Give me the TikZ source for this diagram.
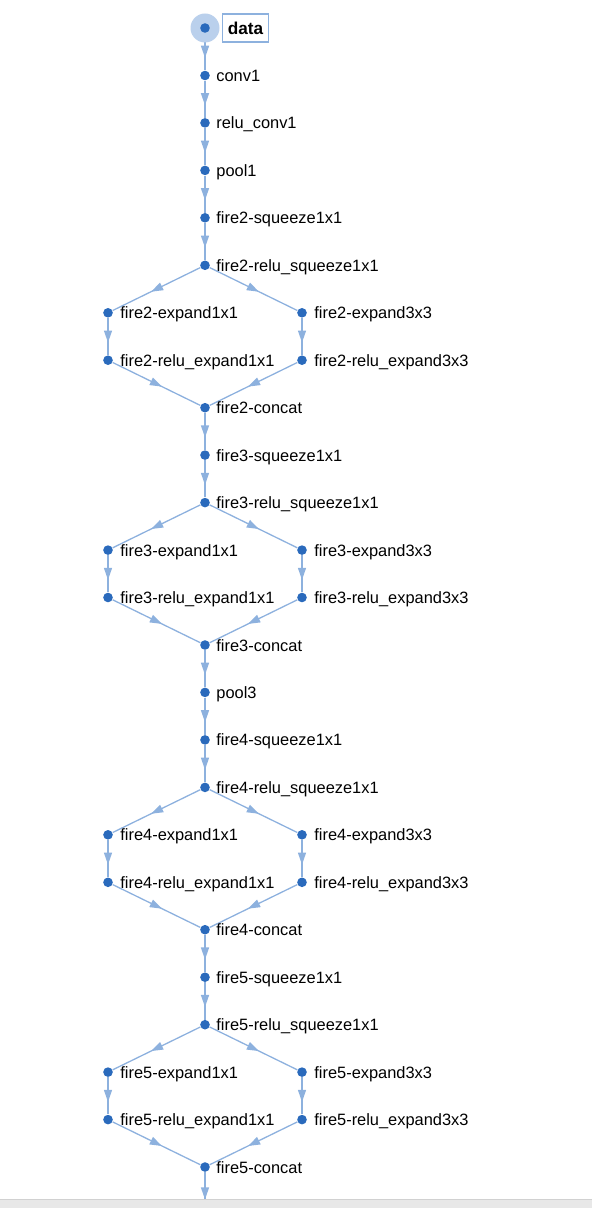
\documentclass[tikz,border=0pt]{standalone}
\usepackage{fontspec}
\setmainfont{Liberation Sans}
\usetikzlibrary{arrows.meta,decorations.markings,backgrounds}

\definecolor{dotblue}{RGB}{42,106,188}
\definecolor{edgeblue}{RGB}{141,177,222}
\definecolor{haloblue}{RGB}{186,208,236}
\definecolor{bargray}{RGB}{232,232,232}

\tikzset{
  layer/.style={circle,fill=dotblue,inner sep=0pt,minimum size=4.8pt},
  lbl/.style={anchor=base west,inner sep=0pt,font=\fontsize{8.2}{10}\selectfont},
  flow/.style={draw=edgeblue,line width=0.65pt,
    postaction={decorate,decoration={markings,
      mark=at position 0.5 with {\fill[edgeblue] (3pt,0) -- (-3pt,2.1pt) -- (-3pt,-2.1pt) -- cycle;}}}}
}

\begin{document}
\begin{tikzpicture}[x=0.5pt,y=-0.5pt]
\useasboundingbox (0,0) rectangle (592,1208);

% input
\node[circle,fill=haloblue,minimum size=14.5pt,inner sep=0pt] (data-halo) at (205,28) {};
\node[layer] (data) at (205,28) {};
\node[draw=edgeblue,line width=0.6pt,inner sep=0pt,minimum width=23pt,minimum height=14pt,
  font=\fontsize{8.6}{10}\selectfont\bfseries,anchor=west] (data-l) at (222,28) {data};

% stem
\node[layer] (conv1) at (205,75.5) {};
\node[lbl] (conv1-l) at (216,81.5) {conv1};
\node[layer] (relu-conv1) at (205,122.9) {};
\node[lbl] (relu-conv1-l) at (216,128.9) {relu\_conv1};
\node[layer] (pool1) at (205,170.4) {};
\node[lbl] (pool1-l) at (216,176.4) {pool1};

% fire2
\node[layer] (f2-sq) at (205,217.8) {};
\node[lbl] (f2-sq-l) at (216,223.8) {fire2-squeeze1x1};
\node[layer] (f2-rsq) at (205,265.3) {};
\node[lbl] (f2-rsq-l) at (216,271.3) {fire2-relu\_squeeze1x1};
\node[layer] (f2-e1) at (108,312.8) {};
\node[lbl] (f2-e1-l) at (120,318.8) {fire2-expand1x1};
\node[layer] (f2-e3) at (302,312.8) {};
\node[lbl] (f2-e3-l) at (314,318.8) {fire2-expand3x3};
\node[layer] (f2-re1) at (108,360.2) {};
\node[lbl] (f2-re1-l) at (120,366.2) {fire2-relu\_expand1x1};
\node[layer] (f2-re3) at (302,360.2) {};
\node[lbl] (f2-re3-l) at (314,366.2) {fire2-relu\_expand3x3};
\node[layer] (f2-cat) at (205,407.7) {};
\node[lbl] (f2-cat-l) at (216,413.7) {fire2-concat};

% fire3
\node[layer] (f3-sq) at (205,455.1) {};
\node[lbl] (f3-sq-l) at (216,461.1) {fire3-squeeze1x1};
\node[layer] (f3-rsq) at (205,502.6) {};
\node[lbl] (f3-rsq-l) at (216,508.6) {fire3-relu\_squeeze1x1};
\node[layer] (f3-e1) at (108,550.1) {};
\node[lbl] (f3-e1-l) at (120,556.1) {fire3-expand1x1};
\node[layer] (f3-e3) at (302,550.1) {};
\node[lbl] (f3-e3-l) at (314,556.1) {fire3-expand3x3};
\node[layer] (f3-re1) at (108,597.5) {};
\node[lbl] (f3-re1-l) at (120,603.5) {fire3-relu\_expand1x1};
\node[layer] (f3-re3) at (302,597.5) {};
\node[lbl] (f3-re3-l) at (314,603.5) {fire3-relu\_expand3x3};
\node[layer] (f3-cat) at (205,645) {};
\node[lbl] (f3-cat-l) at (216,651) {fire3-concat};

\node[layer] (pool3) at (205,692.4) {};
\node[lbl] (pool3-l) at (216,698.4) {pool3};

% fire4
\node[layer] (f4-sq) at (205,739.9) {};
\node[lbl] (f4-sq-l) at (216,745.9) {fire4-squeeze1x1};
\node[layer] (f4-rsq) at (205,787.4) {};
\node[lbl] (f4-rsq-l) at (216,793.4) {fire4-relu\_squeeze1x1};
\node[layer] (f4-e1) at (108,834.8) {};
\node[lbl] (f4-e1-l) at (120,840.8) {fire4-expand1x1};
\node[layer] (f4-e3) at (302,834.8) {};
\node[lbl] (f4-e3-l) at (314,840.8) {fire4-expand3x3};
\node[layer] (f4-re1) at (108,882.3) {};
\node[lbl] (f4-re1-l) at (120,888.3) {fire4-relu\_expand1x1};
\node[layer] (f4-re3) at (302,882.3) {};
\node[lbl] (f4-re3-l) at (314,888.3) {fire4-relu\_expand3x3};
\node[layer] (f4-cat) at (205,929.7) {};
\node[lbl] (f4-cat-l) at (216,935.7) {fire4-concat};

% fire5
\node[layer] (f5-sq) at (205,977.2) {};
\node[lbl] (f5-sq-l) at (216,983.2) {fire5-squeeze1x1};
\node[layer] (f5-rsq) at (205,1024.7) {};
\node[lbl] (f5-rsq-l) at (216,1030.7) {fire5-relu\_squeeze1x1};
\node[layer] (f5-e1) at (108,1072.1) {};
\node[lbl] (f5-e1-l) at (120,1078.1) {fire5-expand1x1};
\node[layer] (f5-e3) at (302,1072.1) {};
\node[lbl] (f5-e3-l) at (314,1078.1) {fire5-expand3x3};
\node[layer] (f5-re1) at (108,1119.6) {};
\node[lbl] (f5-re1-l) at (120,1125.6) {fire5-relu\_expand1x1};
\node[layer] (f5-re3) at (302,1119.6) {};
\node[lbl] (f5-re3-l) at (314,1125.6) {fire5-relu\_expand3x3};
\node[layer] (f5-cat) at (205,1167) {};
\node[lbl] (f5-cat-l) at (216,1173) {fire5-concat};

\coordinate (next) at (205,1214.5);

% connectors
\begin{scope}[on background layer]
\draw[flow] (data) -- (conv1);
\draw[flow] (conv1) -- (relu-conv1);
\draw[flow] (relu-conv1) -- (pool1);
\draw[flow] (pool1) -- (f2-sq);
\draw[flow] (f2-sq) -- (f2-rsq);
\draw[flow] (f2-rsq) -- (f2-e1);
\draw[flow] (f2-rsq) -- (f2-e3);
\draw[flow] (f2-e1) -- (f2-re1);
\draw[flow] (f2-e3) -- (f2-re3);
\draw[flow] (f2-re1) -- (f2-cat);
\draw[flow] (f2-re3) -- (f2-cat);
\draw[flow] (f2-cat) -- (f3-sq);
\draw[flow] (f3-sq) -- (f3-rsq);
\draw[flow] (f3-rsq) -- (f3-e1);
\draw[flow] (f3-rsq) -- (f3-e3);
\draw[flow] (f3-e1) -- (f3-re1);
\draw[flow] (f3-e3) -- (f3-re3);
\draw[flow] (f3-re1) -- (f3-cat);
\draw[flow] (f3-re3) -- (f3-cat);
\draw[flow] (f3-cat) -- (pool3);
\draw[flow] (pool3) -- (f4-sq);
\draw[flow] (f4-sq) -- (f4-rsq);
\draw[flow] (f4-rsq) -- (f4-e1);
\draw[flow] (f4-rsq) -- (f4-e3);
\draw[flow] (f4-e1) -- (f4-re1);
\draw[flow] (f4-e3) -- (f4-re3);
\draw[flow] (f4-re1) -- (f4-cat);
\draw[flow] (f4-re3) -- (f4-cat);
\draw[flow] (f4-cat) -- (f5-sq);
\draw[flow] (f5-sq) -- (f5-rsq);
\draw[flow] (f5-rsq) -- (f5-e1);
\draw[flow] (f5-rsq) -- (f5-e3);
\draw[flow] (f5-e1) -- (f5-re1);
\draw[flow] (f5-e3) -- (f5-re3);
\draw[flow] (f5-re1) -- (f5-cat);
\draw[flow] (f5-re3) -- (f5-cat);
\draw[flow] (f5-cat) -- (next);
\end{scope}

% bottom bar
\fill[bargray] (0,1199) rectangle (592,1208);
\draw[black!18,line width=0.5pt] (0,1199) -- (592,1199);

\end{tikzpicture}
\end{document}
